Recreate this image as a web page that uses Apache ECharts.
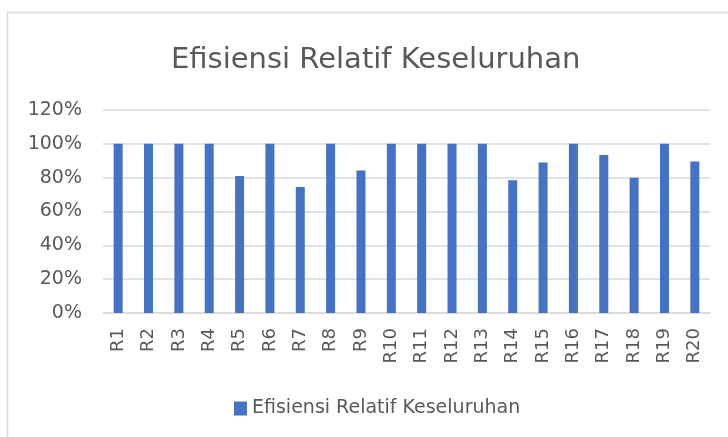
<!DOCTYPE html>
<html>
<head>
<meta charset="utf-8">
<script src="https://cdn.jsdelivr.net/npm/echarts@6/dist/echarts.min.js"></script>
<style>
  html, body { margin: 0; padding: 0; background: #fff; }
  #chart { width: 728px; height: 437px; }
</style>
</head>
<body>
<div id="chart"></div>
<script>
const categories = ["R1", "R2", "R3", "R4", "R5", "R6", "R7", "R8", "R9", "R10",
  "R11", "R12", "R13", "R14", "R15", "R16", "R17", "R18", "R19", "R20"];
const efisiensi = [1.00, 1.00, 1.00, 1.00, 0.81, 1.00, 0.745, 1.00, 0.843, 1.00,
  1.00, 1.00, 1.00, 0.784, 0.89, 1.00, 0.934, 0.80, 1.00, 0.895];
const seriesName = "Efisiensi Relatif Keseluruhan";

let myChart = echarts.init(document.getElementById("chart"));
myChart.setOption({
  animation: false,
  textStyle: { fontFamily: "DejaVu Sans" },
  graphic: [
    {
      type: "rect",
      shape: { x: 7.5, y: 12.5, width: 800, height: 500 },
      style: { fill: "none", stroke: "#d9d9d9", lineWidth: 1.5 }
    }
  ],
  title: {
    text: seriesName,
    left: 166,
    top: 41,
    textStyle: { fontSize: 29, fontWeight: "normal", color: "#595959", fontFamily: "DejaVu Sans" }
  },
  legend: {
    top: 394,
    left: 229,
    itemWidth: 13,
    itemHeight: 14,
    itemGap: 6,
    textStyle: { fontSize: 19, color: "#595959" },
    data: [{ name: seriesName, icon: "rect" }]
  },
  grid: { left: 103, right: 18, top: 110, bottom: 124 },
  xAxis: {
    type: "category",
    data: categories,
    axisLine: { lineStyle: { color: "#d9d9d9", width: 1.5 } },
    axisTick: { show: false },
    axisLabel: { rotate: 90, fontSize: 18, color: "#595959", margin: 15, interval: 0 }
  },
  yAxis: {
    type: "value",
    min: 0,
    max: 1.2,
    interval: 0.2,
    axisLine: { show: false },
    axisTick: { show: false },
    splitLine: { lineStyle: { color: "#d9d9d9", width: 1.5 } },
    axisLabel: {
      fontSize: 19,
      color: "#595959",
      margin: 21,
      formatter: v => Math.round(v * 100) + "%"
    }
  },
  series: [
    {
      name: seriesName,
      type: "bar",
      barWidth: 9,
      itemStyle: { color: "#4472c4" },
      data: efisiensi
    }
  ]
});
</script>
</body>
</html>
